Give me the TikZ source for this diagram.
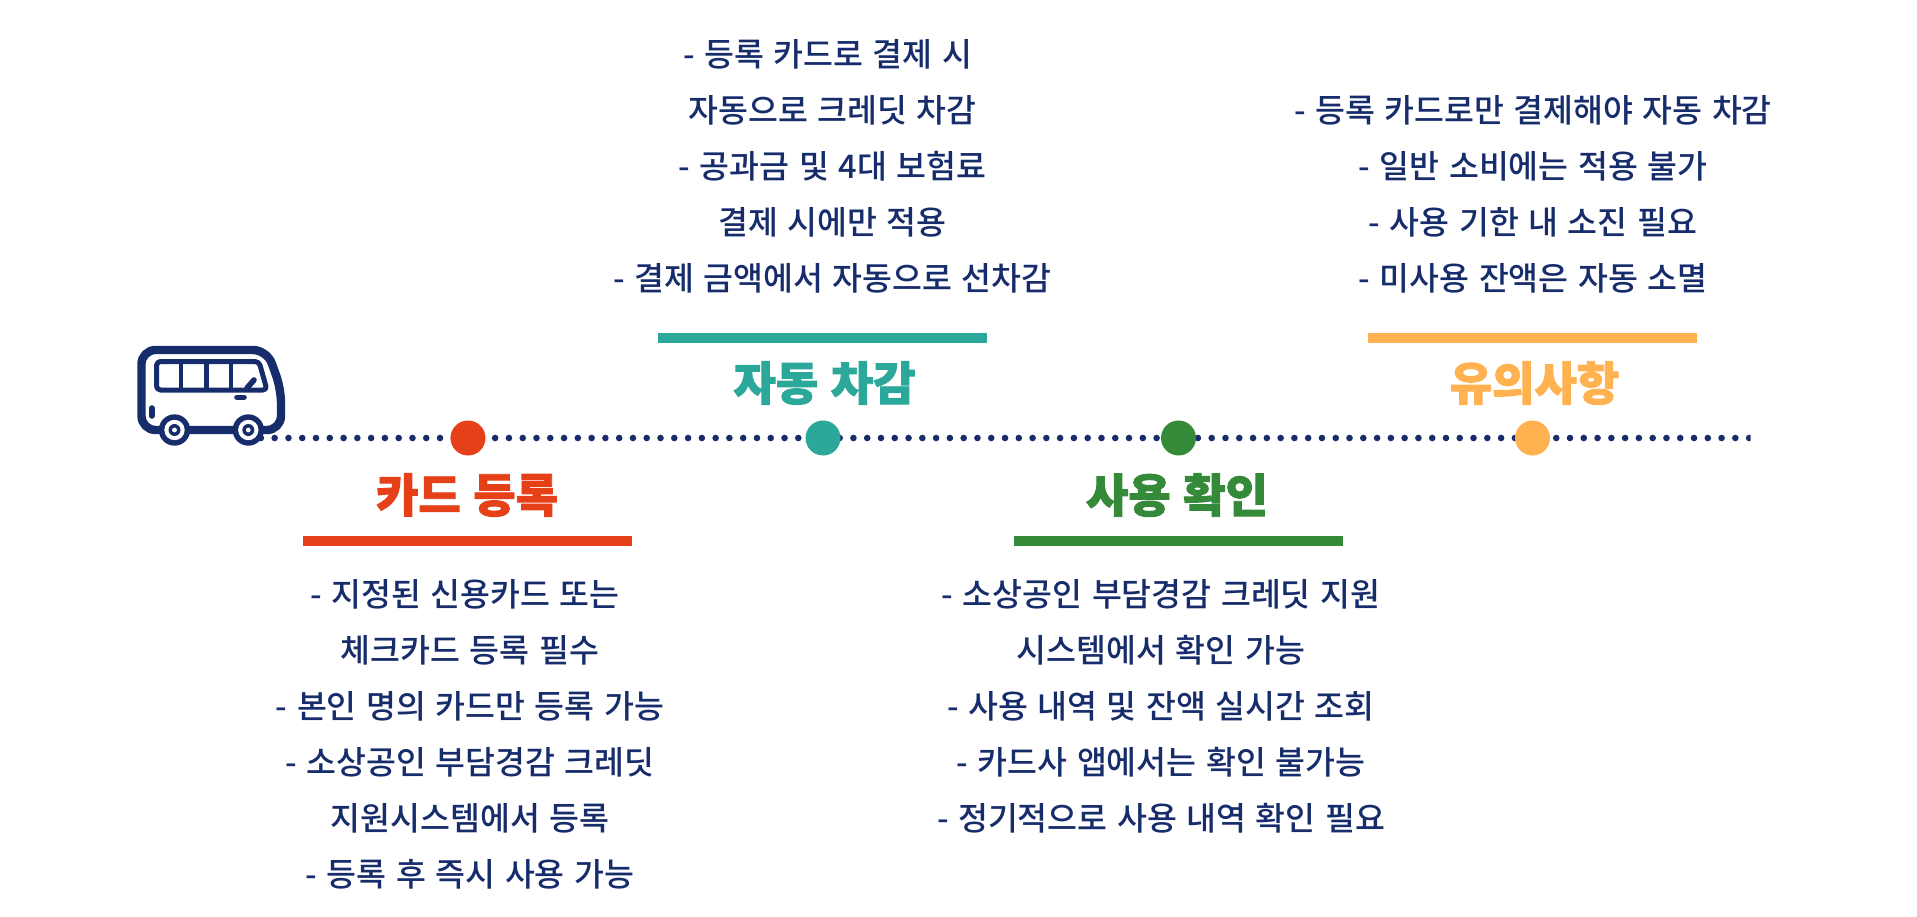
\documentclass[tikz,border=0pt]{standalone}
\usepackage{fontspec}
\setmainfont[WordSpace=1.3]{Noto Sans CJK KR Medium}
\newfontfamily\headfont[FakeBold=2,WordSpace=1.2]{Noto Sans CJK KR Black}
\definecolor{navy}{HTML}{172C6B}
\definecolor{cardred}{HTML}{E64019}
\definecolor{autoteal}{HTML}{2BA89A}
\definecolor{checkgreen}{HTML}{348A39}
\definecolor{notegold}{HTML}{FFB24F}
\tikzset{
    every picture/.style={x=1pt,y=-1pt},
    stepdot/.style={circle,fill=#1,minimum size=35pt,inner sep=0pt},
    heading/.style={text=#1,font=\headfont\fontsize{46}{46}\selectfont,inner sep=0pt},
    body/.style={text=navy,align=center,inner sep=0pt,font=\fontsize{32.5}{56}\selectfont},
    busline/.style={draw=navy,line width=#1,line cap=round,line join=round},
    bar/.style={fill=#1,inner sep=0pt,minimum width=329pt,minimum height=10pt},
}
\begin{document}
\begin{tikzpicture}
    \useasboundingbox (0,0) rectangle (1917,917);

    % dotted track
    \coordinate (start) at (260.89,438);
    \coordinate (end) at (1749.3,438);
    \begin{scope}
        \clip (250,430) rectangle (1750.5,446);
        \draw[navy, line width=6.6pt, line cap=round, dash pattern=on 0pt off 13.78pt] (start) -- (end);
    \end{scope}

    \node[stepdot=cardred] (card) at (468,438) {};
    \node[stepdot=autoteal] (auto) at (823,438) {};
    \node[stepdot=checkgreen] (check) at (1178.5,438) {};
    \node[stepdot=notegold] (note) at (1532.5,438) {};

    % lower columns
    \node[heading=cardred] (cardhead) at (467,495) {카드 등록};
    \node[bar=cardred] (cardbar) at (467.5,541) {};
    \node[body,anchor=north] (cardtext) at (470,579) {- 지정된 신용카드 또는\hspace*{.3em}\\체크카드 등록 필수\\- 본인 명의 카드만 등록 가능\\- 소상공인 부담경감 크레딧\hspace*{.3em}\\지원시스템에서 등록\\- 등록 후 즉시 사용 가능};
    \node[heading=checkgreen] (checkhead) at (1177,495) {사용 확인};
    \node[bar=checkgreen] (checkbar) at (1178.5,541) {};
    \node[body,anchor=north] (checktext) at (1161,579) {- 소상공인 부담경감 크레딧 지원\\시스템에서 확인 가능\\- 사용 내역 및 잔액 실시간 조회\\- 카드사 앱에서는 확인 불가능\\- 정기적으로 사용 내역 확인 필요};

    % upper columns
    \node[heading=autoteal] (autohead) at (824.5,383) {자동 차감};
    \node[bar=autoteal] (autobar) at (822.5,338) {};
    \node[body,anchor=north] (autotext) at (832.5,39) {- 등록 카드로 결제 시\hspace*{.3em}\\자동으로 크레딧 차감\\- 공과금 및 4대 보험료\hspace*{.3em}\\결제 시에만 적용\\- 결제 금액에서 자동으로 선차감};
    \node[heading=notegold] (notehead) at (1534.5,383) {유의사항};
    \node[bar=notegold] (notebar) at (1532.5,338) {};
    \node[body,anchor=north] (notetext) at (1533,95) {- 등록 카드로만 결제해야 자동 차감\\- 일반 소비에는 적용 불가\\- 사용 기한 내 소진 필요\\- 미사용 잔액은 자동 소멸};

    % bus
    \draw[busline=8.4pt, rounded corners=14pt] (210,430) -- (141.5,430) -- (141.5,350) -- (267,350) -- (281,389) -- (281,430) -- cycle;
    \draw[busline=5pt, rounded corners=4pt] (156.5,361.5) -- (259,361.5) -- (267,390) -- (156.5,390) -- cycle;
    \foreach \xpos in {181,206.5,231}
        \draw[navy, line width=4.6pt] (\xpos,361.5) -- (\xpos,390);
    \draw[busline=5.6pt] (247,388) -- (254,380);
    \draw[busline=5.6pt] (237,397.3) -- (244,397.3);
    \draw[busline=5.6pt] (151.7,408) -- (151.7,416);
    \foreach \xpos in {174.5,248.3} {
        \fill[navy] (\xpos,430) circle (15.7);
        \fill[white] (\xpos,430) circle (10.2);
        \fill[navy] (\xpos,430) circle (6);
        \fill[white] (\xpos,430) circle (2.4);
    }
\end{tikzpicture}
\end{document}
